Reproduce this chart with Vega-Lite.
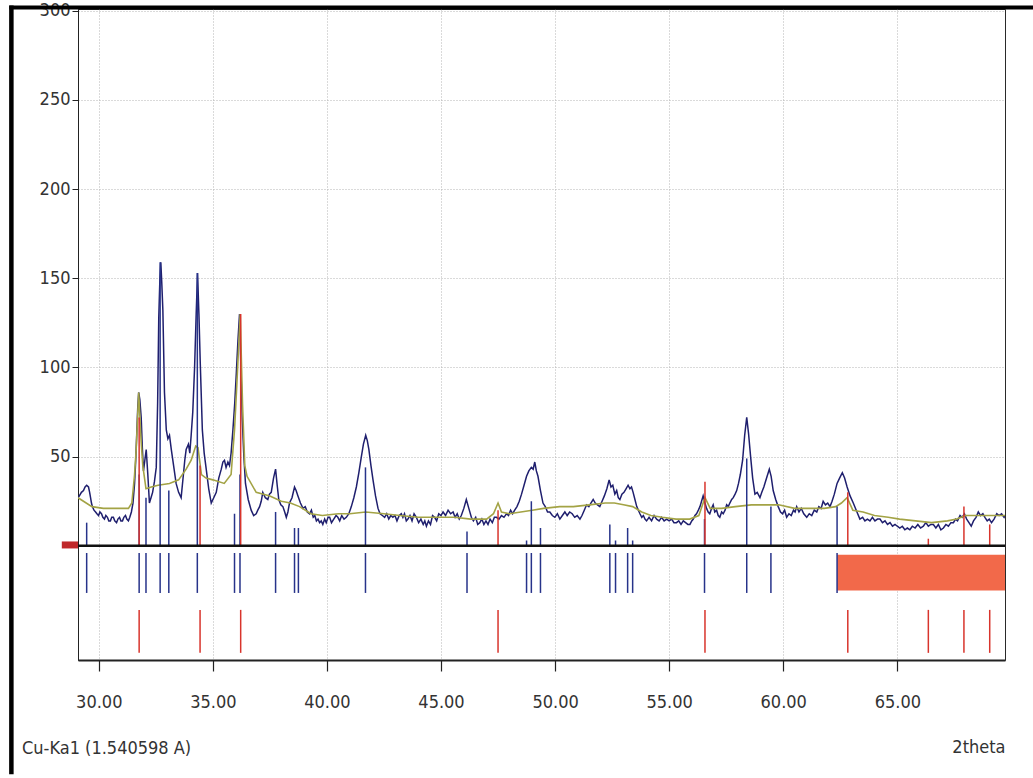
{
  "$schema": "https://vega.github.io/schema/vega-lite/v6.json",
  "autosize": "none",
  "width": 927,
  "height": 651,
  "padding": {"left": 78, "top": 9, "right": 28, "bottom": 118},
  "background": "white",
  "title": {
    "text": "Cu-Ka1 (1.540598 A)",
    "orient": "bottom",
    "anchor": "start",
    "frame": "group",
    "dx": -56,
    "dy": -40,
    "fontSize": 18,
    "fontWeight": "normal",
    "color": "#333333",
    "font": "Liberation Sans Narrow, DejaVu Sans Condensed, sans-serif"
  },
  "config": {
    "font": "Liberation Sans Narrow, DejaVu Sans Condensed, sans-serif",
    "view": {"stroke": "#2a2a2a", "strokeWidth": 1},
    "axis": {
      "labelFont": "Liberation Sans Narrow, DejaVu Sans Condensed, sans-serif",
      "titleFont": "Liberation Sans Narrow, DejaVu Sans Condensed, sans-serif",
      "labelFontSize": 18,
      "labelColor": "#333333",
      "titleFontSize": 18,
      "titleFontWeight": "normal",
      "titleColor": "#333333",
      "domainColor": "#222222",
      "tickColor": "#222222",
      "gridColor": "#b4b4b4",
      "gridDash": [1, 2],
      "gridWidth": 1
    }
  },
  "datasets": {
    "observed": [
      {"deg":29.09,"cts":27},{"deg":29.15,"cts":28},{"deg":29.24,"cts":30},{"deg":29.33,"cts":31},{"deg":29.40,"cts":33},{"deg":29.47,"cts":34},{"deg":29.55,"cts":33},{"deg":29.60,"cts":30},{"deg":29.64,"cts":27},{"deg":29.68,"cts":24},{"deg":29.72,"cts":22},{"deg":29.79,"cts":20},{"deg":29.86,"cts":19},{"deg":29.92,"cts":18},{"deg":29.99,"cts":17},{"deg":30.05,"cts":19},{"deg":30.12,"cts":18},{"deg":30.18,"cts":16},{"deg":30.25,"cts":15},{"deg":30.31,"cts":17},{"deg":30.38,"cts":16},{"deg":30.44,"cts":14},{"deg":30.51,"cts":14},{"deg":30.57,"cts":16},{"deg":30.64,"cts":16},{"deg":30.70,"cts":14},{"deg":30.78,"cts":13},{"deg":30.84,"cts":15},{"deg":30.91,"cts":16},{"deg":30.97,"cts":14},{"deg":31.04,"cts":14},{"deg":31.10,"cts":16},{"deg":31.17,"cts":17},{"deg":31.23,"cts":15},{"deg":31.30,"cts":14},{"deg":31.36,"cts":16},{"deg":31.43,"cts":19},{"deg":31.50,"cts":24},{"deg":31.57,"cts":35},{"deg":31.62,"cts":48},{"deg":31.66,"cts":61},{"deg":31.71,"cts":78},{"deg":31.75,"cts":86},{"deg":31.80,"cts":82},{"deg":31.86,"cts":72},{"deg":31.91,"cts":55},{"deg":31.96,"cts":42},{"deg":32.02,"cts":48},{"deg":32.08,"cts":54},{"deg":32.15,"cts":40},{"deg":32.22,"cts":24},{"deg":32.29,"cts":27},{"deg":32.36,"cts":30},{"deg":32.44,"cts":36},{"deg":32.52,"cts":44},{"deg":32.58,"cts":80},{"deg":32.63,"cts":128},{"deg":32.68,"cts":150},{"deg":32.72,"cts":159},{"deg":32.76,"cts":148},{"deg":32.81,"cts":132},{"deg":32.88,"cts":86},{"deg":32.96,"cts":65},{"deg":33.03,"cts":60},{"deg":33.10,"cts":62},{"deg":33.18,"cts":54},{"deg":33.28,"cts":45},{"deg":33.39,"cts":35},{"deg":33.50,"cts":30},{"deg":33.61,"cts":27},{"deg":33.71,"cts":40},{"deg":33.77,"cts":48},{"deg":33.83,"cts":54},{"deg":33.93,"cts":57},{"deg":33.99,"cts":52},{"deg":34.05,"cts":62},{"deg":34.12,"cts":75},{"deg":34.20,"cts":100},{"deg":34.27,"cts":130},{"deg":34.33,"cts":153},{"deg":34.39,"cts":130},{"deg":34.45,"cts":102},{"deg":34.54,"cts":65},{"deg":34.62,"cts":52},{"deg":34.71,"cts":43},{"deg":34.82,"cts":32},{"deg":34.93,"cts":24},{"deg":35.04,"cts":27},{"deg":35.15,"cts":30},{"deg":35.26,"cts":38},{"deg":35.37,"cts":43},{"deg":35.44,"cts":47},{"deg":35.51,"cts":48},{"deg":35.58,"cts":44},{"deg":35.66,"cts":47},{"deg":35.73,"cts":45},{"deg":35.80,"cts":52},{"deg":35.88,"cts":65},{"deg":35.96,"cts":80},{"deg":36.03,"cts":97},{"deg":36.10,"cts":115},{"deg":36.17,"cts":130},{"deg":36.23,"cts":100},{"deg":36.29,"cts":71},{"deg":36.36,"cts":50},{"deg":36.43,"cts":35},{"deg":36.55,"cts":26},{"deg":36.68,"cts":20},{"deg":36.79,"cts":17},{"deg":36.90,"cts":18},{"deg":36.97,"cts":20},{"deg":37.05,"cts":22},{"deg":37.12,"cts":25},{"deg":37.19,"cts":30},{"deg":37.30,"cts":27},{"deg":37.41,"cts":26},{"deg":37.48,"cts":29},{"deg":37.56,"cts":30},{"deg":37.66,"cts":38},{"deg":37.75,"cts":43},{"deg":37.82,"cts":34},{"deg":37.89,"cts":26},{"deg":37.98,"cts":23},{"deg":38.07,"cts":22},{"deg":38.15,"cts":19},{"deg":38.22,"cts":16},{"deg":38.29,"cts":19},{"deg":38.36,"cts":24},{"deg":38.47,"cts":27},{"deg":38.58,"cts":33},{"deg":38.65,"cts":31},{"deg":38.73,"cts":28},{"deg":38.84,"cts":24},{"deg":38.95,"cts":21},{"deg":39.05,"cts":22},{"deg":39.14,"cts":19},{"deg":39.24,"cts":18},{"deg":39.32,"cts":20},{"deg":39.40,"cts":16},{"deg":39.47,"cts":17},{"deg":39.54,"cts":14},{"deg":39.61,"cts":15},{"deg":39.68,"cts":13},{"deg":39.75,"cts":14},{"deg":39.82,"cts":12},{"deg":39.90,"cts":15},{"deg":39.97,"cts":13},{"deg":40.05,"cts":16},{"deg":40.12,"cts":16},{"deg":40.20,"cts":13},{"deg":40.30,"cts":15},{"deg":40.40,"cts":17},{"deg":40.48,"cts":16},{"deg":40.56,"cts":14},{"deg":40.65,"cts":17},{"deg":40.75,"cts":15},{"deg":40.85,"cts":16},{"deg":40.96,"cts":18},{"deg":41.07,"cts":22},{"deg":41.18,"cts":27},{"deg":41.29,"cts":33},{"deg":41.40,"cts":41},{"deg":41.51,"cts":50},{"deg":41.60,"cts":57},{"deg":41.70,"cts":62},{"deg":41.77,"cts":59},{"deg":41.84,"cts":54},{"deg":41.93,"cts":45},{"deg":42.02,"cts":37},{"deg":42.13,"cts":28},{"deg":42.24,"cts":21},{"deg":42.33,"cts":18},{"deg":42.43,"cts":17},{"deg":42.53,"cts":16},{"deg":42.62,"cts":18},{"deg":42.71,"cts":15},{"deg":42.80,"cts":17},{"deg":42.89,"cts":16},{"deg":42.98,"cts":17},{"deg":43.07,"cts":14},{"deg":43.17,"cts":17},{"deg":43.26,"cts":18},{"deg":43.33,"cts":16},{"deg":43.40,"cts":18},{"deg":43.48,"cts":14},{"deg":43.55,"cts":15},{"deg":43.64,"cts":17},{"deg":43.73,"cts":14},{"deg":43.82,"cts":18},{"deg":43.92,"cts":16},{"deg":44.02,"cts":13},{"deg":44.12,"cts":15},{"deg":44.22,"cts":12},{"deg":44.29,"cts":14},{"deg":44.36,"cts":11},{"deg":44.45,"cts":14},{"deg":44.54,"cts":12},{"deg":44.63,"cts":17},{"deg":44.72,"cts":16},{"deg":44.81,"cts":14},{"deg":44.90,"cts":18},{"deg":45.00,"cts":17},{"deg":45.09,"cts":19},{"deg":45.20,"cts":17},{"deg":45.31,"cts":20},{"deg":45.42,"cts":18},{"deg":45.53,"cts":19},{"deg":45.62,"cts":16},{"deg":45.71,"cts":18},{"deg":45.80,"cts":15},{"deg":45.89,"cts":17},{"deg":46.00,"cts":21},{"deg":46.11,"cts":26},{"deg":46.22,"cts":21},{"deg":46.33,"cts":16},{"deg":46.42,"cts":14},{"deg":46.52,"cts":16},{"deg":46.61,"cts":12},{"deg":46.70,"cts":13},{"deg":46.79,"cts":15},{"deg":46.88,"cts":12},{"deg":46.97,"cts":14},{"deg":47.06,"cts":12},{"deg":47.15,"cts":15},{"deg":47.25,"cts":13},{"deg":47.34,"cts":16},{"deg":47.43,"cts":16},{"deg":47.54,"cts":15},{"deg":47.65,"cts":17},{"deg":47.76,"cts":16},{"deg":47.87,"cts":18},{"deg":47.96,"cts":17},{"deg":48.05,"cts":20},{"deg":48.14,"cts":18},{"deg":48.23,"cts":20},{"deg":48.33,"cts":22},{"deg":48.43,"cts":25},{"deg":48.53,"cts":29},{"deg":48.64,"cts":34},{"deg":48.75,"cts":39},{"deg":48.85,"cts":42},{"deg":48.96,"cts":44},{"deg":49.04,"cts":43},{"deg":49.11,"cts":47},{"deg":49.18,"cts":42},{"deg":49.25,"cts":39},{"deg":49.36,"cts":31},{"deg":49.47,"cts":24},{"deg":49.57,"cts":22},{"deg":49.67,"cts":19},{"deg":49.77,"cts":19},{"deg":49.88,"cts":17},{"deg":49.99,"cts":16},{"deg":50.10,"cts":18},{"deg":50.21,"cts":15},{"deg":50.32,"cts":17},{"deg":50.43,"cts":19},{"deg":50.53,"cts":17},{"deg":50.64,"cts":19},{"deg":50.75,"cts":18},{"deg":50.86,"cts":16},{"deg":50.97,"cts":17},{"deg":51.09,"cts":15},{"deg":51.18,"cts":17},{"deg":51.28,"cts":20},{"deg":51.38,"cts":23},{"deg":51.48,"cts":22},{"deg":51.57,"cts":24},{"deg":51.67,"cts":26},{"deg":51.76,"cts":24},{"deg":51.86,"cts":23},{"deg":51.96,"cts":22},{"deg":52.06,"cts":25},{"deg":52.16,"cts":28},{"deg":52.27,"cts":32},{"deg":52.37,"cts":37},{"deg":52.45,"cts":33},{"deg":52.53,"cts":34},{"deg":52.62,"cts":29},{"deg":52.70,"cts":31},{"deg":52.77,"cts":27},{"deg":52.84,"cts":26},{"deg":52.93,"cts":29},{"deg":53.02,"cts":30},{"deg":53.11,"cts":32},{"deg":53.20,"cts":34},{"deg":53.28,"cts":32},{"deg":53.35,"cts":33},{"deg":53.42,"cts":30},{"deg":53.50,"cts":26},{"deg":53.58,"cts":22},{"deg":53.65,"cts":20},{"deg":53.72,"cts":18},{"deg":53.80,"cts":16},{"deg":53.87,"cts":17},{"deg":53.94,"cts":15},{"deg":54.01,"cts":14},{"deg":54.12,"cts":16},{"deg":54.23,"cts":14},{"deg":54.34,"cts":17},{"deg":54.45,"cts":15},{"deg":54.56,"cts":14},{"deg":54.67,"cts":16},{"deg":54.78,"cts":14},{"deg":54.89,"cts":15},{"deg":55.00,"cts":14},{"deg":55.11,"cts":15},{"deg":55.21,"cts":13},{"deg":55.32,"cts":13},{"deg":55.42,"cts":14},{"deg":55.52,"cts":12},{"deg":55.62,"cts":14},{"deg":55.72,"cts":13},{"deg":55.82,"cts":12},{"deg":55.91,"cts":12},{"deg":55.99,"cts":14},{"deg":56.06,"cts":15},{"deg":56.13,"cts":17},{"deg":56.20,"cts":18},{"deg":56.28,"cts":20},{"deg":56.35,"cts":22},{"deg":56.42,"cts":25},{"deg":56.49,"cts":28},{"deg":56.57,"cts":24},{"deg":56.64,"cts":21},{"deg":56.71,"cts":19},{"deg":56.78,"cts":18},{"deg":56.86,"cts":21},{"deg":56.93,"cts":23},{"deg":57.00,"cts":19},{"deg":57.08,"cts":20},{"deg":57.15,"cts":17},{"deg":57.22,"cts":16},{"deg":57.30,"cts":19},{"deg":57.37,"cts":18},{"deg":57.45,"cts":20},{"deg":57.52,"cts":23},{"deg":57.59,"cts":22},{"deg":57.66,"cts":24},{"deg":57.74,"cts":26},{"deg":57.81,"cts":27},{"deg":57.89,"cts":29},{"deg":57.96,"cts":31},{"deg":58.04,"cts":35},{"deg":58.12,"cts":40},{"deg":58.22,"cts":48},{"deg":58.31,"cts":62},{"deg":58.40,"cts":72},{"deg":58.48,"cts":63},{"deg":58.57,"cts":50},{"deg":58.66,"cts":38},{"deg":58.76,"cts":29},{"deg":58.86,"cts":30},{"deg":58.98,"cts":27},{"deg":59.06,"cts":30},{"deg":59.15,"cts":33},{"deg":59.27,"cts":38},{"deg":59.39,"cts":43},{"deg":59.47,"cts":39},{"deg":59.56,"cts":31},{"deg":59.67,"cts":26},{"deg":59.78,"cts":22},{"deg":59.88,"cts":19},{"deg":59.97,"cts":18},{"deg":60.06,"cts":20},{"deg":60.15,"cts":16},{"deg":60.25,"cts":18},{"deg":60.35,"cts":17},{"deg":60.45,"cts":20},{"deg":60.52,"cts":19},{"deg":60.59,"cts":22},{"deg":60.69,"cts":19},{"deg":60.79,"cts":21},{"deg":60.90,"cts":18},{"deg":61.03,"cts":16},{"deg":61.14,"cts":18},{"deg":61.25,"cts":17},{"deg":61.36,"cts":20},{"deg":61.47,"cts":19},{"deg":61.56,"cts":22},{"deg":61.66,"cts":21},{"deg":61.75,"cts":25},{"deg":61.85,"cts":23},{"deg":61.95,"cts":24},{"deg":62.05,"cts":22},{"deg":62.14,"cts":25},{"deg":62.24,"cts":29},{"deg":62.36,"cts":35},{"deg":62.47,"cts":38},{"deg":62.59,"cts":41},{"deg":62.69,"cts":38},{"deg":62.80,"cts":33},{"deg":62.93,"cts":28},{"deg":63.07,"cts":24},{"deg":63.20,"cts":20},{"deg":63.36,"cts":15},{"deg":63.48,"cts":16},{"deg":63.58,"cts":14},{"deg":63.69,"cts":15},{"deg":63.80,"cts":14},{"deg":63.91,"cts":16},{"deg":64.02,"cts":14},{"deg":64.13,"cts":15},{"deg":64.24,"cts":15},{"deg":64.35,"cts":13},{"deg":64.46,"cts":14},{"deg":64.57,"cts":12},{"deg":64.68,"cts":13},{"deg":64.79,"cts":11},{"deg":64.90,"cts":12},{"deg":65.00,"cts":11},{"deg":65.11,"cts":10},{"deg":65.22,"cts":11},{"deg":65.33,"cts":9},{"deg":65.44,"cts":10},{"deg":65.55,"cts":9},{"deg":65.66,"cts":11},{"deg":65.78,"cts":10},{"deg":65.90,"cts":12},{"deg":66.02,"cts":10},{"deg":66.14,"cts":11},{"deg":66.25,"cts":13},{"deg":66.36,"cts":11},{"deg":66.47,"cts":12},{"deg":66.58,"cts":12},{"deg":66.69,"cts":10},{"deg":66.80,"cts":12},{"deg":66.91,"cts":9},{"deg":67.02,"cts":10},{"deg":67.13,"cts":12},{"deg":67.24,"cts":11},{"deg":67.35,"cts":13},{"deg":67.46,"cts":13},{"deg":67.55,"cts":15},{"deg":67.64,"cts":14},{"deg":67.75,"cts":17},{"deg":67.84,"cts":16},{"deg":67.94,"cts":18},{"deg":68.04,"cts":15},{"deg":68.14,"cts":13},{"deg":68.24,"cts":11},{"deg":68.34,"cts":14},{"deg":68.45,"cts":16},{"deg":68.55,"cts":19},{"deg":68.65,"cts":17},{"deg":68.75,"cts":18},{"deg":68.84,"cts":16},{"deg":68.94,"cts":14},{"deg":69.03,"cts":15},{"deg":69.13,"cts":13},{"deg":69.24,"cts":15},{"deg":69.36,"cts":18},{"deg":69.46,"cts":17},{"deg":69.57,"cts":18},{"deg":69.68,"cts":16},{"deg":69.72,"cts":17}
    ],
    "calculated": [
      {"deg":29.09,"cts":27},{"deg":29.33,"cts":25},{"deg":29.70,"cts":22},{"deg":30.20,"cts":21},{"deg":30.80,"cts":21},{"deg":31.30,"cts":21},{"deg":31.45,"cts":24},{"deg":31.57,"cts":40},{"deg":31.64,"cts":54},{"deg":31.75,"cts":86},{"deg":31.85,"cts":60},{"deg":31.93,"cts":45},{"deg":32.07,"cts":32},{"deg":32.30,"cts":33},{"deg":32.60,"cts":34},{"deg":33.10,"cts":35},{"deg":33.50,"cts":37},{"deg":33.83,"cts":43},{"deg":34.05,"cts":48},{"deg":34.25,"cts":56},{"deg":34.35,"cts":55},{"deg":34.50,"cts":40},{"deg":34.70,"cts":38},{"deg":35.00,"cts":37},{"deg":35.50,"cts":35},{"deg":35.80,"cts":40},{"deg":35.95,"cts":65},{"deg":36.05,"cts":90},{"deg":36.20,"cts":130},{"deg":36.30,"cts":80},{"deg":36.40,"cts":45},{"deg":36.50,"cts":39},{"deg":36.90,"cts":30},{"deg":37.50,"cts":28},{"deg":38.00,"cts":25},{"deg":38.40,"cts":24},{"deg":38.80,"cts":22},{"deg":39.30,"cts":18},{"deg":39.80,"cts":17},{"deg":40.50,"cts":18},{"deg":41.00,"cts":18},{"deg":41.70,"cts":19},{"deg":42.50,"cts":18},{"deg":43.20,"cts":17},{"deg":44.00,"cts":16},{"deg":44.80,"cts":16},{"deg":45.60,"cts":16},{"deg":46.30,"cts":15},{"deg":47.00,"cts":15},{"deg":47.30,"cts":18},{"deg":47.50,"cts":24},{"deg":47.65,"cts":19},{"deg":48.00,"cts":18},{"deg":48.50,"cts":19},{"deg":49.00,"cts":20},{"deg":49.50,"cts":21},{"deg":50.20,"cts":22},{"deg":50.80,"cts":22},{"deg":51.50,"cts":23},{"deg":52.20,"cts":24},{"deg":52.60,"cts":24},{"deg":53.00,"cts":23},{"deg":53.40,"cts":22},{"deg":53.80,"cts":19},{"deg":54.20,"cts":17},{"deg":54.70,"cts":16},{"deg":55.30,"cts":15},{"deg":55.90,"cts":15},{"deg":56.30,"cts":17},{"deg":56.57,"cts":27},{"deg":56.80,"cts":21},{"deg":57.30,"cts":21},{"deg":57.90,"cts":22},{"deg":58.60,"cts":23},{"deg":59.30,"cts":23},{"deg":59.80,"cts":23},{"deg":60.50,"cts":21},{"deg":61.20,"cts":21},{"deg":61.80,"cts":21},{"deg":62.30,"cts":22},{"deg":62.55,"cts":24},{"deg":62.80,"cts":27},{"deg":63.05,"cts":20},{"deg":63.50,"cts":19},{"deg":64.00,"cts":17},{"deg":64.60,"cts":16},{"deg":65.10,"cts":15},{"deg":65.80,"cts":14},{"deg":66.50,"cts":13},{"deg":67.20,"cts":14},{"deg":67.60,"cts":15},{"deg":68.00,"cts":17},{"deg":68.80,"cts":17},{"deg":69.72,"cts":17}
    ],
    "phaseBlue": [
      {"deg":29.47,"rel":13},{"deg":31.77,"rel":40},{"deg":32.07,"rel":27},{"deg":32.69,"rel":159},{"deg":33.07,"rel":31},{"deg":34.32,"rel":153},{"deg":35.95,"rel":18},{"deg":36.19,"rel":40},{"deg":37.75,"rel":19},{"deg":38.58,"rel":10},{"deg":38.75,"rel":10},{"deg":41.69,"rel":44},{"deg":46.14,"rel":8},{"deg":48.75,"rel":3},{"deg":48.96,"rel":25},{"deg":49.36,"rel":10},{"deg":52.40,"rel":12},{"deg":52.65,"rel":3},{"deg":53.18,"rel":10},{"deg":53.40,"rel":3},{"deg":56.55,"rel":15},{"deg":58.40,"rel":49},{"deg":59.46,"rel":22},{"deg":62.36,"rel":22}
    ],
    "phaseRed": [
      {"deg":31.77,"rel":72},{"deg":34.44,"rel":45},{"deg":36.22,"rel":130},{"deg":47.50,"rel":20},{"deg":56.57,"rel":36},{"deg":62.83,"rel":30},{"deg":66.36,"rel":4},{"deg":67.92,"rel":22},{"deg":69.05,"rel":12}
    ],
    "region": [
      {"start":62.36,"end":69.72}
    ]
  },
  "layer": [
    {
      "data": {"name": "observed"},
      "mark": {"type": "line", "color": "#1f1f6e", "strokeWidth": 1.5, "clip": true},
      "encoding": {
        "x": {
          "field": "deg", "type": "quantitative",
          "scale": {"domain": [29.09, 69.72], "nice": false, "zero": false},
          "axis": {
            "values": [30, 35, 40, 45, 50, 55, 60, 65],
            "format": ".2f",
            "tickSize": 11,
            "tickWidth": 1.2,
            "domainWidth": 2,
            "labelPadding": 22,
            "grid": true,
            "title": "2theta",
            "titleAnchor": "end",
            "titlePadding": 27
          }
        },
        "y": {
          "field": "cts", "type": "quantitative",
          "scale": {"domain": [-64, 301], "nice": false, "zero": false},
          "axis": {
            "values": [50, 100, 150, 200, 250, 300],
            "format": "d",
            "tickSize": 6,
            "labelPadding": 2,
            "grid": true,
            "title": null
          }
        }
      }
    },
    {
      "data": {"name": "calculated"},
      "mark": {"type": "line", "color": "#a3a345", "strokeWidth": 1.6, "clip": true},
      "encoding": {
        "x": {"field": "deg", "type": "quantitative"},
        "y": {"field": "cts", "type": "quantitative"}
      }
    },
    {
      "data": {"name": "region"},
      "mark": {"type": "rect", "color": "#f2694a"},
      "encoding": {
        "x": {"field": "start", "type": "quantitative"},
        "x2": {"field": "end"},
        "y": {"datum": -5, "type": "quantitative"},
        "y2": {"datum": -25}
      }
    },
    {
      "data": {"name": "phaseBlue"},
      "mark": {"type": "rule", "color": "#27338a", "strokeWidth": 1.5},
      "encoding": {
        "x": {"field": "deg", "type": "quantitative"},
        "y": {"field": "rel", "type": "quantitative"},
        "y2": {"datum": 0}
      }
    },
    {
      "data": {"name": "phaseBlue"},
      "mark": {"type": "rule", "color": "#27338a", "strokeWidth": 1.5},
      "encoding": {
        "x": {"field": "deg", "type": "quantitative"},
        "y": {"datum": -4, "type": "quantitative"},
        "y2": {"datum": -26.4}
      }
    },
    {
      "data": {"name": "phaseRed"},
      "mark": {"type": "rule", "color": "#d8342c", "strokeWidth": 1.5},
      "encoding": {
        "x": {"field": "deg", "type": "quantitative"},
        "y": {"field": "rel", "type": "quantitative"},
        "y2": {"datum": 0}
      }
    },
    {
      "data": {"name": "phaseRed"},
      "mark": {"type": "rule", "color": "#d8342c", "strokeWidth": 1.5},
      "encoding": {
        "x": {"field": "deg", "type": "quantitative"},
        "y": {"datum": -35.9, "type": "quantitative"},
        "y2": {"datum": -60}
      }
    },
    {
      "data": {"values": [{}]},
      "mark": {"type": "rule", "color": "#111111", "strokeWidth": 2.5},
      "encoding": {
        "y": {"datum": 0, "type": "quantitative"}
      }
    },
    {
      "data": {"values": [{}]},
      "mark": {"type": "rule", "color": "#c0282a", "strokeWidth": 7},
      "encoding": {
        "x": {"datum": 28.38, "type": "quantitative"},
        "x2": {"datum": 29.09},
        "y": {"datum": 0.5, "type": "quantitative"}
      }
    },
    {
      "data": {"values": [{}]},
      "mark": {"type": "rule", "color": "#000000", "strokeWidth": 4},
      "encoding": {
        "x": {"datum": 26.08, "type": "quantitative"},
        "x2": {"datum": 71.0},
        "y": {"datum": 301.9, "type": "quantitative"}
      }
    },
    {
      "data": {"values": [{}]},
      "mark": {"type": "rule", "color": "#000000", "strokeWidth": 4.5},
      "encoding": {
        "x": {"datum": 26.17, "type": "quantitative"},
        "y": {"datum": 303, "type": "quantitative"},
        "y2": {"datum": -128}
      }
    }
  ]
}
